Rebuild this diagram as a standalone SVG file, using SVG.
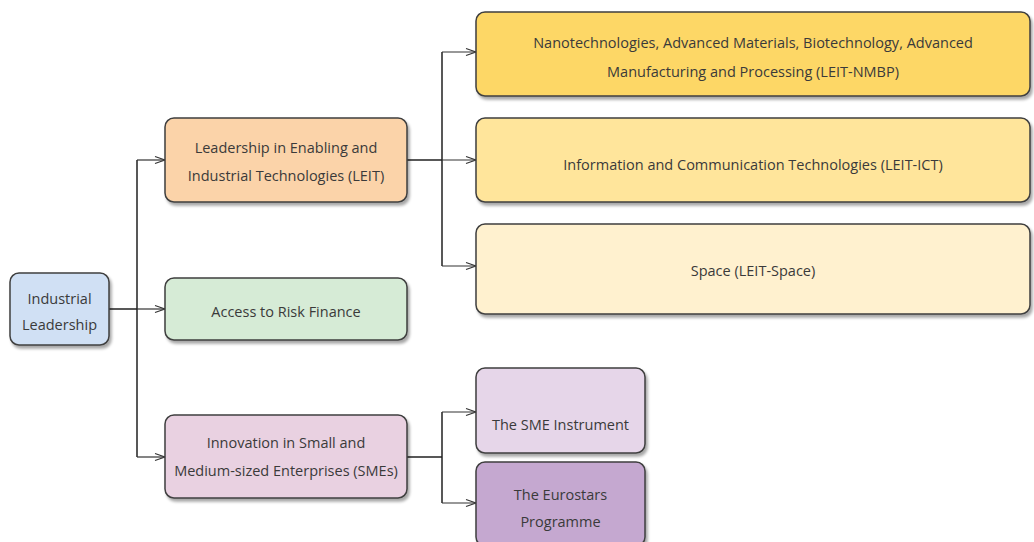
<svg xmlns="http://www.w3.org/2000/svg" width="1034" height="542" viewBox="0 0 1034 542">
<defs>
<filter id="sh" x="-10%" y="-10%" width="130%" height="140%">
<feGaussianBlur in="SourceAlpha" stdDeviation="1.5"/>
<feOffset dx="2" dy="3" result="b"/>
<feComponentTransfer><feFuncA type="linear" slope="0.35"/></feComponentTransfer>
<feMerge><feMergeNode/><feMergeNode in="SourceGraphic"/></feMerge>
</filter>
<marker id="arr" viewBox="0 0 12 10" refX="11" refY="5" markerWidth="12" markerHeight="10" markerUnits="userSpaceOnUse" orient="auto">
<path d="M1,1.5 L11,5 L1,8.5" fill="none" stroke="#333" stroke-width="1.2"/>
</marker>
</defs>
<style>
.box{stroke:#3f3f3f;stroke-width:1.5;filter:url(#sh)}
.t{font-family:"Open Sans","Noto Sans",sans-serif;font-size:14.5px;fill:#3a3a3a;text-anchor:middle}
.c{fill:none;stroke:#222;stroke-width:1.5}
.a{fill:none;stroke:#333;stroke-width:1.2;marker-end:url(#arr)}
</style>
<rect width="1034" height="542" fill="#fff"/>
<g id="connectors">
<path class="c" d="M109,309 H137 M137,160 V457"/>
<path class="a" d="M137,160 H165"/>
<path class="a" d="M137,309 H165"/>
<path class="a" d="M137,457 H165"/>
<path class="c" d="M407,160 H442 M442,52 V266"/>
<path class="a" d="M442,52 H476"/>
<path class="a" d="M442,160 H476"/>
<path class="a" d="M442,266 H476"/>
<path class="c" d="M407,457 H442 M442,412 V503"/>
<path class="a" d="M442,412 H476"/>
<path class="a" d="M442,503 H476"/>
</g>
<g id="industrial">
<rect class="box" x="10" y="273" width="99" height="72" rx="9" fill="#d0e0f4"/>
<text class="t" x="59.5" y="304">Industrial</text>
<text class="t" x="59.5" y="330">Leadership</text>
</g>
<g id="leit">
<rect class="box" x="165" y="118" width="242" height="84" rx="9" fill="#fbd3a9"/>
<text class="t" x="286" y="153">Leadership in Enabling and</text>
<text class="t" x="286" y="181">Industrial Technologies (LEIT)</text>
</g>
<g id="access">
<rect class="box" x="165" y="278" width="242" height="62" rx="9" fill="#d6ebd6"/>
<text class="t" x="286" y="317">Access to Risk Finance</text>
</g>
<g id="innovation">
<rect class="box" x="165" y="415" width="242" height="83" rx="9" fill="#e9d1e1"/>
<text class="t" x="286" y="448">Innovation in Small and</text>
<text class="t" x="286" y="476">Medium-sized Enterprises (SMEs)</text>
</g>
<g id="nmbp">
<rect class="box" x="476" y="12" width="554" height="84" rx="9" fill="#fdd766"/>
<text class="t" x="753" y="48">Nanotechnologies, Advanced Materials, Biotechnology, Advanced</text>
<text class="t" x="753" y="77">Manufacturing and Processing (LEIT-NMBP)</text>
</g>
<g id="ict">
<rect class="box" x="476" y="118" width="554" height="84" rx="9" fill="#ffe59b"/>
<text class="t" x="753" y="170">Information and Communication Technologies (LEIT-ICT)</text>
</g>
<g id="space">
<rect class="box" x="476" y="224" width="554" height="90" rx="9" fill="#fff1cf"/>
<text class="t" x="753" y="276">Space (LEIT-Space)</text>
</g>
<g id="sme">
<rect class="box" x="476" y="368" width="169" height="85" rx="9" fill="#e6d6e9"/>
<text class="t" x="560.5" y="430">The SME Instrument</text>
</g>
<g id="eurostars">
<rect class="box" x="476" y="462" width="169" height="84" rx="9" fill="#c5a8d0"/>
<text class="t" x="560.5" y="500">The Eurostars</text>
<text class="t" x="560.5" y="527">Programme</text>
</g>
</svg>
